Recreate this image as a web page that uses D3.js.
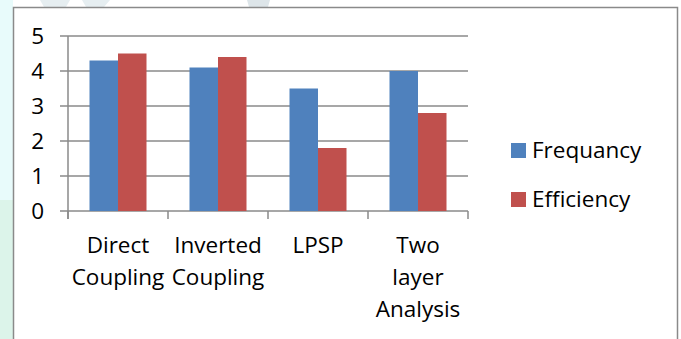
<!DOCTYPE html>
<html>
<head>
<meta charset="utf-8">
<script src="https://cdn.jsdelivr.net/npm/d3@7"></script>
<style>
  html, body { margin: 0; padding: 0; background: #fff; }
  svg { display: block; }
  text { font-family: "Open Sans", Lato, sans-serif; fill: #000; font-variant-ligatures: none; }
</style>
</head>
<body>
<svg id="chart" width="681" height="339"></svg>
<script>
// Chart data
const categories = [["Direct", "Coupling"], ["Inverted", "Coupling"], ["LPSP"], ["Two", "layer", "Analysis"]];
const seriesNames = ["Frequancy", "Efficiency"];
const frequancy = [4.3, 4.1, 3.5, 4.0];
const efficiency = [4.5, 4.4, 1.8, 2.8];
const yTicks = [0, 1, 2, 3, 4, 5];

const colors = ["#4F81BD", "#C0504D"];
const seriesValues = [frequancy, efficiency];

const svg = d3.select("#chart");
const FONT = 22.5;

// faint background decoration outside the frame
const deco = svg.append("g");
deco.append("rect").attr("x", 0).attr("y", 0).attr("width", 13).attr("height", 200).attr("fill", "#e8fbfb");
deco.append("rect").attr("x", 0).attr("y", 200).attr("width", 13).attr("height", 139).attr("fill", "#dcf4ea");
deco.append("path").attr("d", "M40,0 L70,0 L66,7 L44,7 Z").attr("fill", "#e6eef1");
deco.append("path").attr("d", "M82,0 L110,0 L104,7 L86,7 Z").attr("fill", "#e6eef1");
deco.append("path").attr("d", "M247,0 L270,0 L268,7 L249,7 Z").attr("fill", "#dde5e9");

// chart frame
svg.append("rect")
  .attr("x", 13.5).attr("y", 7.5)
  .attr("width", 664).attr("height", 345)
  .attr("fill", "#fff")
  .attr("stroke", "#8a8a8a").attr("stroke-width", 1.5);

const plot = { left: 68, right: 468, top: 36, bottom: 211 };

const x = d3.scaleBand()
  .domain(d3.range(categories.length))
  .range([plot.left, plot.right])
  .paddingInner(0.43).paddingOuter(0.215);

const xs = d3.scaleBand()
  .domain(d3.range(seriesNames.length))
  .range([0, x.bandwidth()]);

const y = d3.scaleLinear().domain([0, 5]).range([plot.bottom, plot.top]);

const gridColor = "#8a8a8a";

// horizontal gridlines (with short left ticks)
svg.append("g").selectAll("line")
  .data(yTicks)
  .join("line")
  .attr("x1", plot.left - 8).attr("x2", plot.right)
  .attr("y1", d => y(d)).attr("y2", d => y(d))
  .attr("stroke", gridColor).attr("stroke-width", 1.5);

// y axis line
svg.append("line")
  .attr("x1", plot.left).attr("x2", plot.left)
  .attr("y1", plot.top).attr("y2", plot.bottom + 8)
  .attr("stroke", gridColor).attr("stroke-width", 1.5);

// x category tick marks at band boundaries
const bounds = d3.range(categories.length + 1).map(i => plot.left + i * (plot.right - plot.left) / categories.length);
svg.append("g").selectAll("line")
  .data(bounds)
  .join("line")
  .attr("x1", d => d).attr("x2", d => d)
  .attr("y1", plot.bottom).attr("y2", plot.bottom + 8)
  .attr("stroke", gridColor).attr("stroke-width", 1.5);

// y tick labels
svg.append("g").selectAll("text")
  .data(yTicks)
  .join("text")
  .attr("x", 44).attr("y", d => y(d))
  .attr("dy", "0.35em")
  .attr("text-anchor", "end")
  .attr("font-size", FONT)
  .text(d => d);

// bars
seriesValues.forEach((vals, s) => {
  svg.append("g").selectAll("rect")
    .data(vals)
    .join("rect")
    .attr("x", (d, i) => x(i) + xs(s))
    .attr("y", d => y(d))
    .attr("width", xs.bandwidth())
    .attr("height", d => y(0) - y(d))
    .attr("fill", colors[s]);
});

// category labels
const catG = svg.append("g");
categories.forEach((lines, i) => {
  const cx = plot.left + (i + 0.5) * (plot.right - plot.left) / categories.length;
  const t = catG.append("text")
    .attr("text-anchor", "middle")
    .attr("font-size", FONT);
  lines.forEach((ln, j) => {
    t.append("tspan").attr("x", cx).attr("y", 253.3 + j * 31.7).text(ln);
  });
});

// legend
const legend = svg.append("g");
seriesNames.forEach((name, s) => {
  const ly = 150.5 + s * 49;
  legend.append("rect")
    .attr("x", 511).attr("y", ly - 7.5)
    .attr("width", 15).attr("height", 15)
    .attr("fill", colors[s]);
  legend.append("text")
    .attr("x", 532).attr("y", ly)
    .attr("dy", "0.35em")
    .attr("font-size", FONT)
    .text(name);
});
</script>
</body>
</html>
